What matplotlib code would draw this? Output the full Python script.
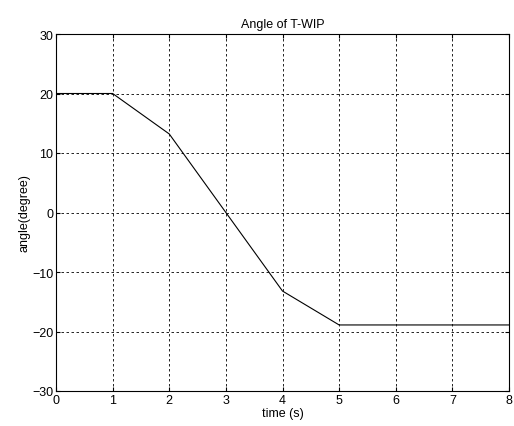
import numpy as np
import matplotlib.pyplot as plt

plt.rcParams['font.family'] = ['Liberation Sans', 'DejaVu Sans']

# angle of the T-WIP over time
time_s = [0, 1, 2, 3, 4, 5, 6, 7, 8]
angle_deg = [20, 20, 13.2, 0, -13.2, -18.9, -18.9, -18.9, -18.9]

xticks = np.arange(0, 9, 1)
yticks = np.arange(-30, 31, 10)

fig = plt.figure(figsize=(5.14, 4.27), dpi=100)
ax = fig.add_axes([56 / 514, 35 / 427, 453 / 514, 357 / 427])

ax.plot(time_s, angle_deg, color='black', linewidth=0.8)

ax.set_xlim(0, 8)
ax.set_ylim(-30, 30)
ax.set_xticks(xticks)
ax.set_yticks(yticks)
ax.grid(True, color='black', linestyle=(0, (3, 3)), linewidth=0.6)
ax.tick_params(direction='in', top=True, right=True, length=3, labelsize=9, pad=2)
for s in ax.spines.values():
    s.set_linewidth(0.8)

ax.set_title('Angle of T-WIP', fontsize=9, pad=5)
ax.set_xlabel('time (s)', fontsize=9, labelpad=1)
ax.set_ylabel('angle(degree)', fontsize=9, labelpad=1)

fig.savefig('out.png', dpi=100)
